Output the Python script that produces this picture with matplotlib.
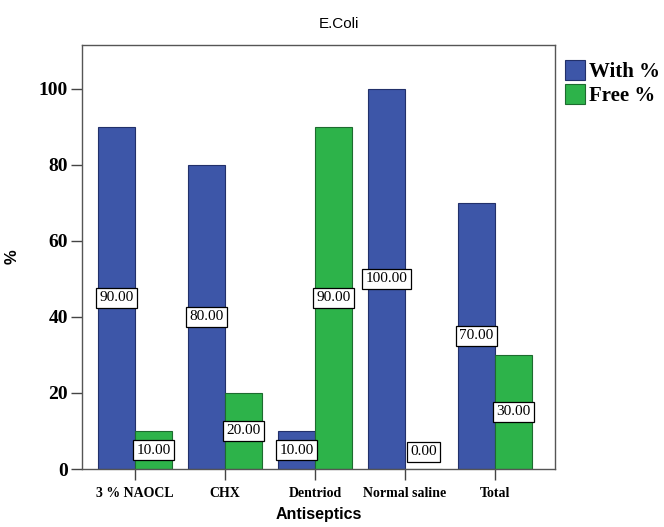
import numpy as np
import matplotlib.pyplot as plt

# data
categories = ['3 % NAOCL', 'CHX', 'Dentriod', 'Normal saline', 'Total']
with_pct = [90.0, 80.0, 10.0, 100.0, 70.0]
free_pct = [10.0, 20.0, 90.0, 0.0, 30.0]
y_ticks = [0, 20, 40, 60, 80, 100]

blue = '#3D56A8'
green = '#2DB34A'
serif = 'Liberation Serif'
sans = 'Liberation Sans'

fig = plt.figure(figsize=(6.64, 5.27), dpi=100)
ax = fig.add_axes([0.1235, 0.110, 0.7125, 0.805])

x = np.arange(len(categories))
w = 0.41
b1 = ax.bar(x - w / 2, with_pct, w, color=blue, edgecolor='#22306a', linewidth=0.8, label='With %')
b2 = ax.bar(x + w / 2, free_pct, w, color=green, edgecolor='#1d6b2f', linewidth=0.8, label='Free %')

# value boxes in the middle of each bar
for bars, vals in ((b1, with_pct), (b2, free_pct)):
    for bar, v in zip(bars, vals):
        yy = max(v / 2, 4.5)
        ax.text(bar.get_x() + bar.get_width() / 2, yy, f'{v:.2f}',
                ha='center', va='center', fontsize=11, family=serif,
                bbox=dict(boxstyle='square,pad=0.22', fc='white', ec='black', lw=0.9))

ax.set_xlim(-0.59, 4.67)
ax.set_ylim(0, 111.5)
ax.set_yticks(y_ticks)
ax.set_yticklabels([str(t) for t in y_ticks], fontsize=14, fontweight='bold', family=serif)
ax.set_xticks(x)
ax.set_xticklabels(categories, fontsize=10, fontweight='bold', family=serif)
ax.tick_params(axis='both', direction='out', length=8, width=1, color='#444444')
ax.tick_params(axis='x', pad=5)
ax.tick_params(axis='y', pad=2)
for s in ax.spines.values():
    s.set_color('#555555')
    s.set_linewidth(1)

ax.set_xlabel('Antiseptics', fontsize=11.5, fontweight='bold', family=sans, labelpad=5)
ax.set_ylabel('%', fontsize=12, fontweight='bold', family=sans, labelpad=14)
fig.text(0.51, 0.955, 'E.Coli', ha='center', va='center', fontsize=11, family=sans)

leg = ax.legend(loc='upper left', bbox_to_anchor=(1.02, 0.965), frameon=False,
                prop={'family': serif, 'weight': 'bold', 'size': 15},
                handlelength=1.0, handleheight=1.1, handletextpad=0.15,
                labelspacing=0.12, borderaxespad=0, borderpad=0)

plt.savefig('out.png', dpi=100)
